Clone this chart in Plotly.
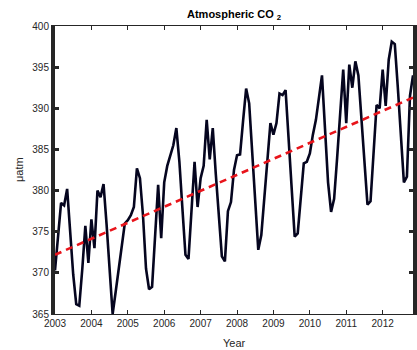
import plotly.graph_objects as go

# Monthly atmospheric CO2 (Jan 2003 .. Nov 2012)
co2 = [
    370.3, 374.8, 378.5, 378.2, 380.2, 375.0, 369.8, 366.2, 366.0, 370.5, 375.7, 371.2,
    376.5, 373.0, 380.0, 379.2, 380.8, 375.9, 370.5, 365.0, 367.7, 370.5, 373.3, 376.0,
    376.4, 377.0, 378.0, 382.7, 381.5, 377.0, 370.5, 368.0, 368.3, 374.5, 380.7, 374.2,
    381.0, 383.0, 384.2, 385.5, 387.6, 383.5, 377.8, 372.2, 371.7, 377.5, 383.5, 378.0,
    381.5, 383.0, 388.6, 383.8, 387.6, 382.0, 377.0, 372.0, 371.4, 377.5, 378.6, 382.5,
    384.3, 384.4, 388.5, 392.4, 390.6, 384.6, 379.0, 372.8, 374.6, 379.5, 384.0, 388.2,
    386.8, 388.2, 391.8, 391.6, 392.2, 386.0, 380.5, 374.4, 374.8, 379.5, 383.3, 383.5,
    384.5, 386.8, 388.6, 391.3, 394.0, 387.5, 381.0, 377.4, 379.0, 384.0, 389.5, 394.7,
    388.2, 395.3, 392.5, 395.7, 394.0, 389.0, 383.5, 378.3, 378.7, 384.5, 390.4, 390.0,
    394.7, 390.3, 395.9, 398.1, 397.8, 392.5, 386.0, 381.0, 381.7, 391.5, 394.0,
]
start_year = 2003
years = [start_year + i / 12.0 for i in range(len(co2))]

# Linear trend endpoints
trend_x = [years[0], years[-1]]
trend_y = [372.2, 391.3]

x_ticks = list(range(2003, 2013))
y_ticks = [365, 370, 375, 380, 385, 390, 395, 400]
x_range = [years[0], years[-1]]
y_range = [365, 400]

AX = "#262626"
FONT = "Liberation Sans, Arial, sans-serif"

fig = go.Figure()
fig.add_trace(go.Scatter(x=years, y=co2, mode="lines",
                         line=dict(color="#05051f", width=2.6), showlegend=False))
fig.add_trace(go.Scatter(x=trend_x, y=trend_y, mode="lines",
                         line=dict(color="#e8141b", width=2.6, dash="7px,5px"),
                         showlegend=False))

fig.update_layout(
    width=417, height=350,
    margin=dict(l=55, r=4, t=26, b=36, autoexpand=False),
    paper_bgcolor="white", plot_bgcolor="white",
    font=dict(family=FONT, size=10, color=AX),
    xaxis=dict(range=x_range, tickvals=x_ticks,
               ticktext=[str(v) for v in x_ticks], automargin=False,
               showgrid=False, zeroline=False, showline=True, linecolor=AX,
               linewidth=1, mirror="ticks", ticks="inside", ticklen=4,
               tickwidth=1, tickcolor=AX, tickfont=dict(size=10, color=AX)),
    yaxis=dict(range=y_range, tickvals=y_ticks, automargin=False,
               showgrid=False, zeroline=False, showline=True, linecolor=AX,
               linewidth=4, mirror="ticks", ticks="inside", ticklen=4,
               tickwidth=3, tickcolor=AX, tickfont=dict(size=10, color=AX)),
    annotations=[
        dict(text="<b>Atmospheric CO <sub>2</sub></b>", x=0.5, y=1,
             xref="paper", yref="paper", xanchor="center", yanchor="bottom",
             yshift=2, showarrow=False,
             font=dict(size=11, color="black", family=FONT)),
        dict(text="Year", x=0.5, y=0, xref="paper", yref="paper",
             xanchor="center", yanchor="top", yshift=-21, showarrow=False,
             font=dict(size=11, color=AX, family=FONT)),
        dict(text="\u03bcatm", x=0, y=0.5, xref="paper", yref="paper",
             xanchor="right", yanchor="middle", xshift=-28, textangle=-90,
             showarrow=False, font=dict(size=11, color=AX, family=FONT)),
    ],
)

fig.write_html("out.html", config={"displayModeBar": False},
               post_script="document.body.style.margin='0px';"
                           "document.body.style.overflow='hidden';")
